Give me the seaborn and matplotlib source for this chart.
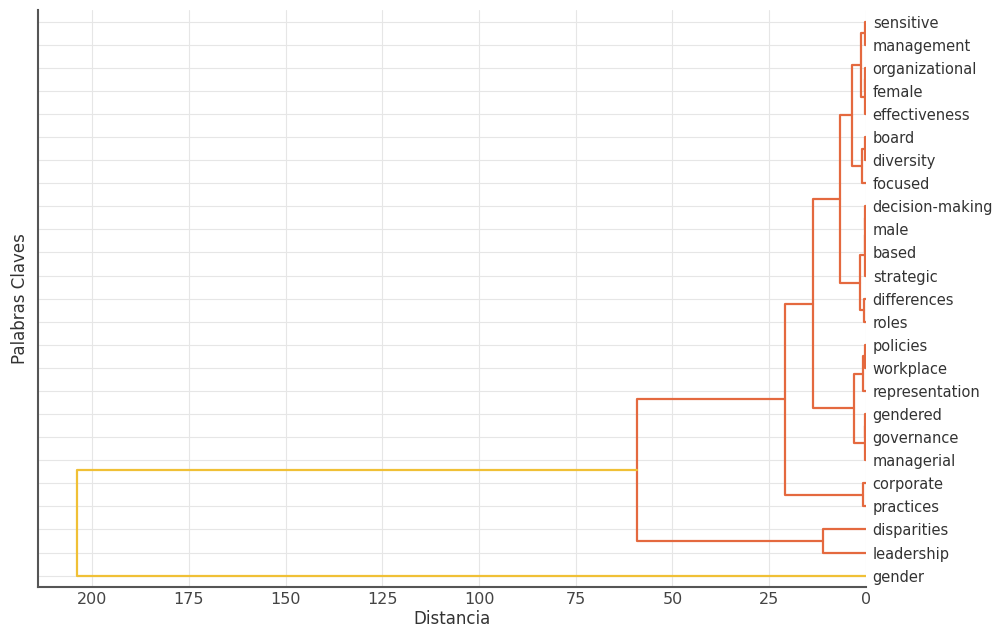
import numpy as np
import pandas as pd
import seaborn as sns
import matplotlib
matplotlib.use("Agg")
import matplotlib.pyplot as plt

# Leaves, top to bottom as shown
leaf_labels = [
    "sensitive", "management", "organizational", "female", "effectiveness",
    "board", "diversity", "focused", "decision-making", "male", "based",
    "strategic", "differences", "roles", "policies", "workplace",
    "representation", "gendered", "governance", "managerial", "corporate",
    "practices", "disparities", "leadership", "gender",
]

# Linkage (scipy style): new cluster ids start at len(leaf_labels)
merge_left = [0, 2, 26, 25, 5, 29, 28, 8, 32, 33, 12, 34, 31,
              14, 38, 17, 40, 39, 37, 20, 43, 22, 45, 47]
merge_right = [1, 3, 4, 27, 6, 7, 30, 9, 10, 11, 13, 35, 36,
               15, 16, 18, 19, 41, 42, 21, 44, 23, 46, 24]
merge_height = [0.2, 0.1, 0.3, 1.3, 0.1, 1.0, 3.6, 0.1, 0.2, 0.3, 0.5, 1.5, 6.6,
                0.2, 0.8, 0.1, 0.2, 3.1, 13.7, 0.8, 20.9, 11.1, 59.2, 203.9]

n = len(leaf_labels)
pos = {i: 5 + 10 * (n - 1 - i) for i in range(n)}
height = {i: 0.0 for i in range(n)}
max_h = max(merge_height)

rows = []
for k, (l, r, h) in enumerate(zip(merge_left, merge_right, merge_height)):
    cid = n + k
    pos[cid] = (pos[l] + pos[r]) / 2
    height[cid] = h
    grupo = "arriba" if h > 0.7 * max_h else "cluster"
    xs = [height[l], h, h, height[r]]
    ys = [pos[l], pos[l], pos[r], pos[r]]
    for x, y in zip(xs, ys):
        rows.append({"link": k, "dist": x, "pos": y, "grupo": grupo})
links = pd.DataFrame(rows)

sns.set_style("whitegrid", {"grid.color": "#e6e6e6", "axes.edgecolor": "#555555"})
plt.rcParams["font.family"] = ["DejaVu Sans"]

fig = plt.figure(figsize=(9.94, 6.3), dpi=100)
ax = fig.add_axes([0.038, 0.068, 0.833, 0.916])

sns.lineplot(data=links, x="dist", y="pos", units="link", hue="grupo",
             estimator=None, sort=False, legend=False, linewidth=1.6,
             palette={"cluster": "#e4693f", "arriba": "#f0c036"}, ax=ax)

ax.set_xlim(max_h * 1.05, 0)
ax.set_ylim(0, 10 * n)
ax.set_xticks(np.arange(0, 201, 25))
ax.set_yticks([pos[i] for i in range(n)])
ax.set_yticklabels(leaf_labels, fontsize=10.5, color="#333333")
ax.yaxis.tick_right()
ax.yaxis.set_label_position("left")
ax.tick_params(axis="x", labelsize=11.5, colors="#444444", length=3, direction="in")
ax.tick_params(axis="y", length=0, pad=5)
ax.grid(True, color="#e6e6e6", linewidth=0.8)

for side in ["top", "right"]:
    ax.spines[side].set_visible(False)
for side in ["left", "bottom"]:
    ax.spines[side].set_linewidth(1.5)
    ax.spines[side].set_color("#555555")

ax.set_xlabel("Distancia", fontsize=12, color="#333333", labelpad=2)
ax.set_ylabel("Palabras Claves", fontsize=12, color="#333333", labelpad=6)

fig.savefig("out.png", dpi=100)
